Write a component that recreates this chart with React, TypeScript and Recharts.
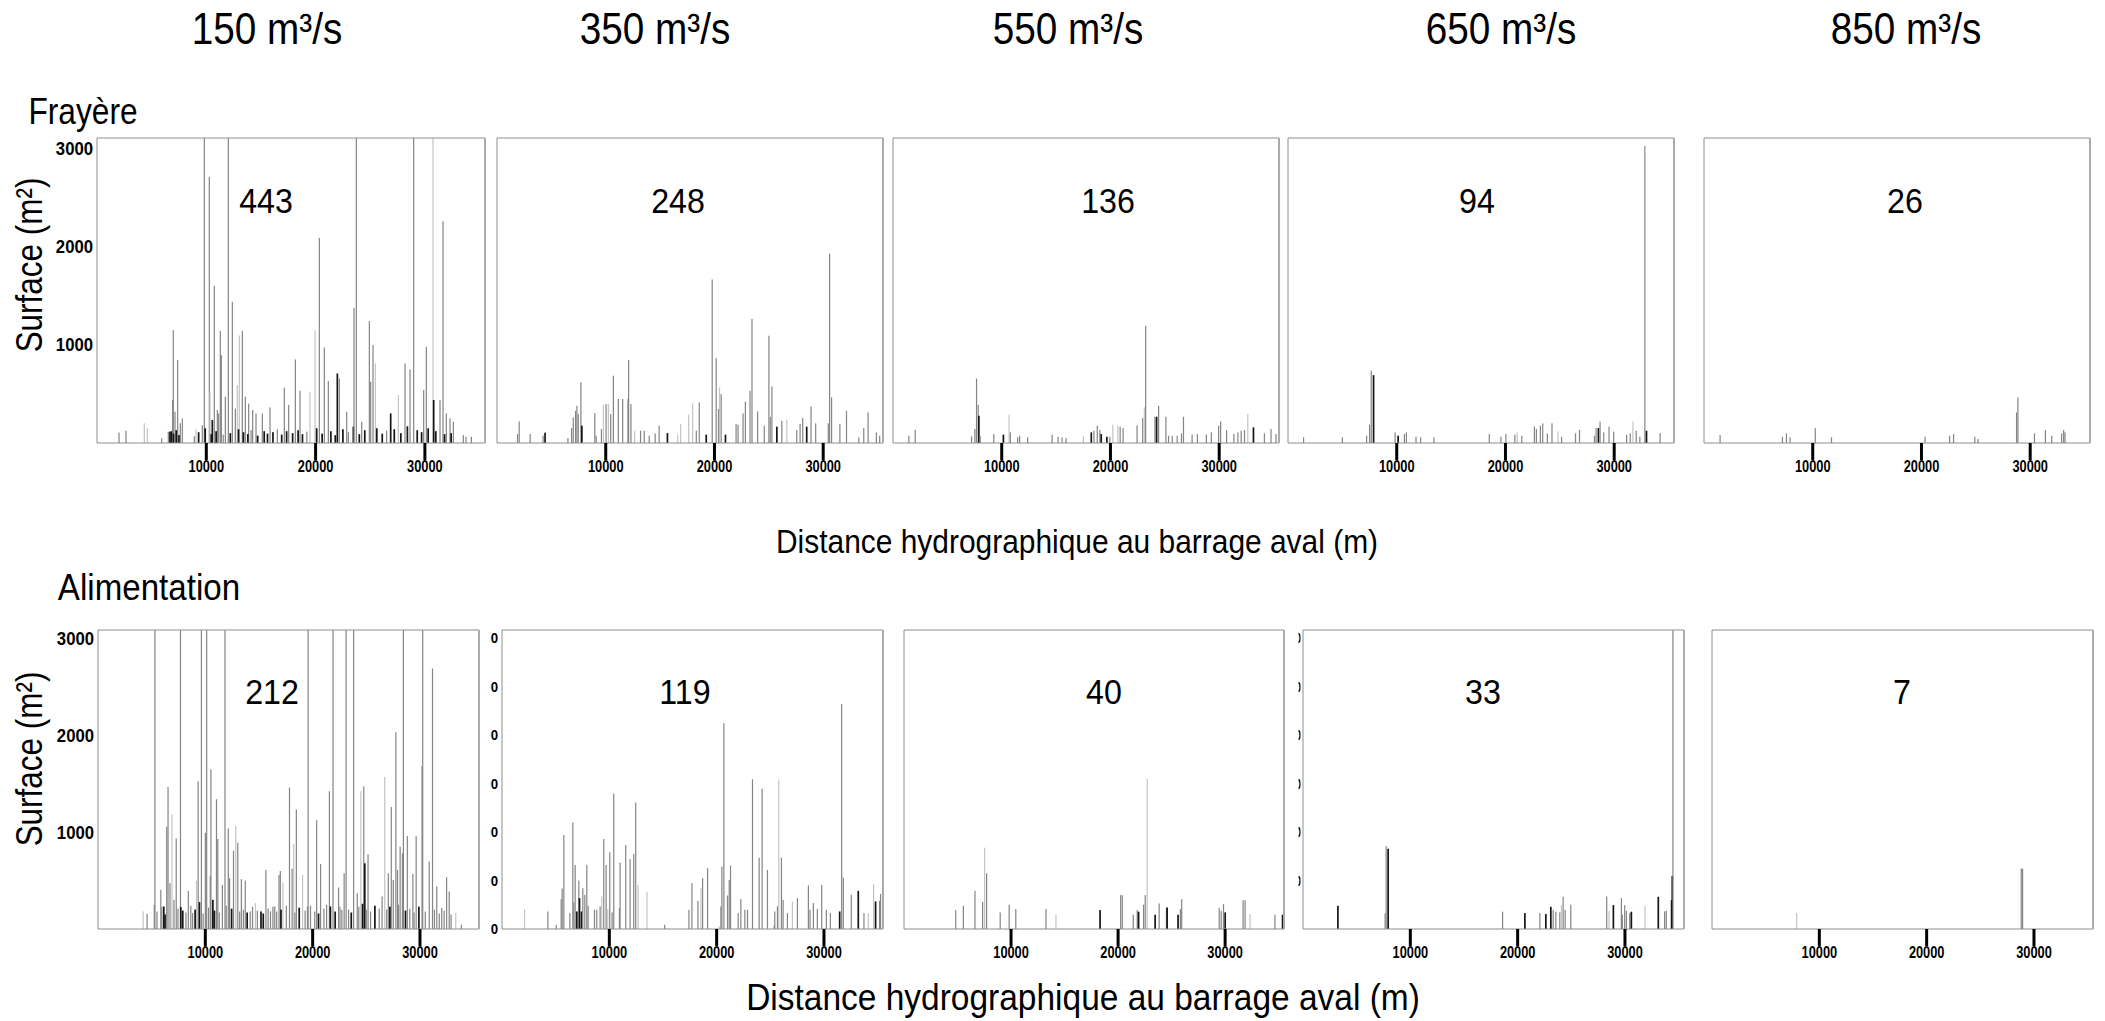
import React from 'react';
import { ComposedChart, Bar, XAxis, YAxis } from 'recharts';

type Spike = [number, number, string];

// ---------- labels / categories ----------
const flows = ['150', '350', '550', '650', '850'];
const frayereCounts = [443, 248, 136, 94, 26];
const alimCounts = [212, 119, 40, 33, 7];
const xLabelTicks = [10000, 20000, 30000];
const topTicks5k = [5000, 10000, 15000, 20000, 25000, 30000, 35000];
const topTicks10k = [10000, 20000, 30000];
const yLabelTicks = [1000, 2000, 3000];
const yFrameTicks = [0, 500, 1000, 1500, 2000, 2500, 3000];
const xDomainMax = 35500;

// ---------- Frayère (spawning) ----------
const fray150: Spike[] = [
  [2013, 105, 'B'], [2653, 125, 'B'], [4331, 200, 'C'], [4606, 150, 'C'], [5917, 47, 'B'],
  [6527, 115, 'B'], [6680, 115, 'A'], [6924, 437, 'B'], [6984, 1147, 'B'], [7137, 318, 'B'],
  [7381, 843, 'B'], [7625, 200, 'B'], [7808, 250, 'B'], [9058, 140, 'C'], [9638, 180, 'B'],
  [9821, 3500, 'B'], [10278, 2704, 'B'], [10339, 520, 'C'], [10553, 233, 'A'], [10736, 1597, 'B'],
  [11011, 335, 'B'], [11132, 301, 'B'], [11285, 1140, 'B'], [11377, 893, 'B'], [11743, 470, 'B'],
  [12017, 3500, 'B'], [12383, 1435, 'B'], [12657, 350, 'B'], [12840, 590, 'C'], [13023, 1093, 'C'],
  [13298, 1140, 'B'], [13572, 470, 'B'], [13877, 400, 'B'], [14244, 335, 'B'], [14549, 300, 'B'],
  [15128, 300, 'B'], [15830, 362, 'B'], [17141, 562, 'B'], [17538, 386, 'B'], [18148, 850, 'B'],
  [18575, 531, 'B'], [19490, 521, 'C'], [19947, 1147, 'C'], [20344, 2085, 'B'], [20801, 971, 'B'],
  [21167, 629, 'B'], [21991, 707, 'A'], [22174, 656, 'B'], [22845, 318, 'B'], [23455, 166, 'A'],
  [23516, 1374, 'B'], [23729, 3500, 'B'], [24217, 217, 'B'], [24919, 1239, 'B'], [25041, 623, 'B'],
  [25254, 995, 'B'], [25468, 809, 'C'], [26871, 301, 'A'], [27573, 487, 'C'], [28182, 809, 'B'],
  [28640, 748, 'B'], [28975, 3500, 'B'], [29890, 538, 'B'], [30134, 978, 'B'], [30744, 3500, 'C'],
  [30805, 437, 'A'], [31385, 437, 'B'], [31659, 2254, 'B'], [31964, 301, 'B'], [32300, 250, 'B'],
  [32605, 217, 'B'], [33520, 81, 'B'], [33764, 64, 'B'], [34252, 64, 'B'],
];
const fray150Base: Spike[] = [
  [6800, 120, 'A'], [7000, 95, 'A'], [7250, 130, 'A'], [7500, 80, 'A'], [8900, 70, 'B'],
  [9300, 110, 'A'], [9900, 150, 'A'], [10450, 90, 'A'], [10900, 120, 'A'], [11550, 85, 'B'],
  [12200, 100, 'A'], [12950, 140, 'A'], [13400, 110, 'A'], [13800, 90, 'A'], [14100, 130, 'B'],
  [14700, 75, 'A'], [15300, 120, 'A'], [15600, 95, 'A'], [16100, 110, 'A'], [16500, 140, 'B'],
  [16900, 85, 'A'], [17350, 120, 'A'], [17900, 100, 'A'], [18400, 130, 'A'], [18800, 90, 'A'],
  [19200, 115, 'B'], [20100, 150, 'A'], [20600, 95, 'A'], [21400, 120, 'A'], [21800, 80, 'A'],
  [22500, 140, 'A'], [23000, 110, 'B'], [24000, 90, 'A'], [24500, 130, 'A'], [25600, 150, 'A'],
  [26100, 95, 'A'], [26500, 125, 'B'], [27200, 140, 'A'], [27800, 100, 'A'], [28400, 170, 'A'],
  [29300, 130, 'A'], [29700, 110, 'A'], [30300, 150, 'A'], [31000, 120, 'A'], [31800, 90, 'A'],
  [32400, 100, 'A'],
];
const fray350: Spike[] = [
  [1891, 91, 'B'], [2044, 220, 'B'], [3050, 91, 'B'], [4240, 74, 'B'], [4423, 105, 'A'],
  [6527, 51, 'B'], [6863, 152, 'B'], [7015, 260, 'B'], [7229, 328, 'B'], [7351, 379, 'B'],
  [7473, 294, 'B'], [7717, 616, 'B'], [7808, 176, 'A'], [8998, 305, 'B'], [9120, 74, 'B'],
  [9608, 142, 'B'], [9791, 389, 'C'], [10035, 396, 'B'], [10248, 396, 'C'], [10462, 294, 'B'],
  [10706, 684, 'B'], [11163, 447, 'B'], [11560, 447, 'B'], [12048, 447, 'B'], [12109, 843, 'B'],
  [12322, 396, 'B'], [12658, 125, 'C'], [13207, 125, 'B'], [13542, 125, 'B'], [14000, 74, 'B'],
  [14549, 98, 'B'], [14915, 176, 'B'], [15677, 101, 'A'], [16623, 85, 'C'], [16897, 193, 'C'],
  [17629, 288, 'C'], [17995, 403, 'C'], [18331, 125, 'B'], [18605, 413, 'B'], [19246, 85, 'A'],
  [19795, 1662, 'B'], [20161, 863, 'B'], [20374, 345, 'B'], [20466, 565, 'C'], [20618, 497, 'B'],
  [21015, 85, 'A'], [21991, 193, 'B'], [22174, 186, 'B'], [22631, 301, 'B'], [22845, 420, 'B'],
  [23272, 531, 'B'], [23455, 1262, 'B'], [23973, 321, 'B'], [24583, 176, 'B'], [25010, 1090, 'B'],
  [25132, 267, 'B'], [25285, 575, 'B'], [25742, 166, 'A'], [26200, 227, 'B'], [26657, 237, 'C'],
  [27572, 132, 'B'], [27877, 193, 'B'], [28121, 254, 'B'], [28487, 166, 'A'], [28884, 372, 'B'],
  [29311, 200, 'B'], [30470, 200, 'B'], [30592, 1925, 'B'], [30775, 464, 'B'], [31537, 193, 'B'],
  [32147, 328, 'B'], [33276, 58, 'B'], [33733, 152, 'B'], [34130, 311, 'B'], [34892, 108, 'B'],
  [35197, 74, 'B'],
];
const fray550: Spike[] = [
  [1464, 74, 'B'], [2044, 135, 'B'], [7229, 68, 'B'], [7534, 142, 'B'], [7686, 656, 'B'],
  [7839, 389, 'B'], [7900, 277, 'A'], [8022, 74, 'B'], [9272, 91, 'B'], [10157, 85, 'A'],
  [10675, 288, 'C'], [10797, 108, 'B'], [11468, 58, 'B'], [11651, 74, 'B'], [12383, 58, 'B'],
  [14640, 85, 'B'], [15189, 64, 'B'], [15555, 58, 'B'], [15921, 51, 'B'], [17507, 68, 'C'],
  [18239, 108, 'A'], [18483, 125, 'B'], [18788, 176, 'B'], [19032, 132, 'B'], [19154, 91, 'A'],
  [19673, 64, 'A'], [19947, 64, 'B'], [20222, 186, 'C'], [20679, 176, 'C'], [20893, 166, 'B'],
  [21167, 152, 'B'], [22448, 179, 'B'], [22967, 254, 'B'], [23119, 362, 'C'], [23241, 1191, 'B'],
  [24095, 267, 'B'], [24248, 267, 'A'], [24431, 379, 'B'], [25102, 267, 'B'], [25346, 74, 'B'],
  [25681, 74, 'B'], [26139, 74, 'B'], [26535, 98, 'B'], [26718, 267, 'B'], [27511, 85, 'B'],
  [28000, 91, 'B'], [28823, 85, 'B'], [29280, 108, 'B'], [29951, 176, 'B'], [30134, 220, 'B'],
  [30683, 132, 'B'], [31354, 91, 'B'], [31720, 108, 'B'], [32025, 125, 'B'], [32330, 132, 'B'],
  [32635, 294, 'C'], [33154, 159, 'A'], [34160, 98, 'B'], [34770, 142, 'B'], [35228, 91, 'B'],
];
const fray650: Spike[] = [
  [1464, 58, 'B'], [5033, 58, 'B'], [7259, 74, 'B'], [7534, 186, 'B'], [7686, 734, 'B'],
  [7900, 690, 'A'], [9882, 108, 'B'], [10157, 74, 'A'], [10736, 91, 'B'], [10919, 108, 'B'],
  [11804, 64, 'B'], [12231, 58, 'B'], [13451, 58, 'B'], [18544, 91, 'B'], [19612, 64, 'B'],
  [20069, 91, 'B'], [20893, 85, 'B'], [21106, 108, 'C'], [21533, 74, 'B'], [22692, 169, 'B'],
  [22875, 142, 'B'], [23241, 176, 'B'], [23455, 200, 'B'], [23882, 98, 'B'], [24309, 200, 'B'],
  [24858, 118, 'C'], [25193, 64, 'B'], [26474, 98, 'B'], [26840, 135, 'B'], [28213, 74, 'B'],
  [28365, 152, 'B'], [28579, 152, 'A'], [28731, 217, 'B'], [29067, 108, 'B'], [29555, 166, 'B'],
  [29982, 115, 'B'], [31171, 85, 'B'], [31507, 98, 'B'], [31751, 217, 'C'], [32056, 125, 'B'],
  [32391, 64, 'B'], [32849, 3018, 'B'], [33001, 125, 'A'], [34252, 101, 'B'],
];
const fray850: Spike[] = [
  [1495, 81, 'B'], [7229, 64, 'B'], [7595, 98, 'B'], [7930, 58, 'B'], [10248, 152, 'B'],
  [11743, 58, 'B'], [20344, 64, 'B'], [22601, 74, 'B'], [22967, 91, 'B'], [24919, 64, 'B'],
  [25224, 40, 'B'], [28762, 311, 'B'], [28884, 464, 'B'], [30409, 98, 'B'], [31415, 132, 'B'],
  [31995, 74, 'B'], [32910, 98, 'B'], [33093, 132, 'B'], [33215, 108, 'B'],
];

// ---------- Alimentation (feeding) ----------
const alim150: Spike[] = [
  [5307, 3500, 'B'], [7686, 3500, 'B'], [9638, 3500, 'B'], [10126, 3500, 'B'], [11834, 3500, 'B'],
  [19581, 3500, 'B'], [21899, 3500, 'B'], [23119, 3500, 'B'], [23820, 3500, 'B'], [28457, 3500, 'B'],
  [30256, 3500, 'B'],
  [4209, 181, 'C'], [4575, 157, 'B'], [5246, 250, 'B'], [5856, 403, 'B'], [6131, 232, 'A'],
  [6405, 1053, 'B'], [6527, 1463, 'B'], [6710, 472, 'B'], [6893, 1180, 'C'], [7076, 301, 'B'],
  [7290, 933, 'B'], [7717, 226, 'A'], [8418, 393, 'B'], [8815, 164, 'B'], [9181, 496, 'C'],
  [9333, 1521, 'B'], [9455, 277, 'A'], [10004, 991, 'B'], [10462, 547, 'B'], [10523, 1645, 'B'],
  [10706, 301, 'A'], [11041, 1337, 'B'], [11163, 927, 'B'], [11590, 455, 'B'], [12139, 1036, 'B'],
  [12261, 523, 'B'], [12627, 807, 'B'], [12841, 1063, 'C'], [13024, 889, 'B'], [13359, 513, 'B'],
  [13725, 499, 'B'], [14183, 181, 'B'], [14671, 267, 'C'], [15189, 181, 'A'], [15647, 609, 'B'],
  [16074, 181, 'B'], [16470, 232, 'B'], [16867, 557, 'B'], [16989, 598, 'B'], [17233, 479, 'C'],
  [17843, 1457, 'B'], [18087, 622, 'B'], [18239, 875, 'C'], [18483, 1231, 'B'], [19063, 557, 'C'],
  [19520, 232, 'B'], [20374, 1121, 'B'], [20740, 670, 'B'], [21564, 1419, 'B'], [21656, 232, 'A'],
  [22418, 427, 'B'], [22723, 198, 'B'], [22936, 574, 'B'], [24156, 369, 'B'], [24492, 1419, 'C'],
  [24766, 1470, 'B'], [24858, 677, 'A'], [25163, 769, 'B'], [26474, 335, 'B'], [26718, 1566, 'C'],
  [27054, 574, 'B'], [27328, 1258, 'B'], [27511, 506, 'B'], [27755, 2027, 'B'], [27908, 609, 'B'],
  [28152, 848, 'B'], [28365, 779, 'B'], [28823, 957, 'B'], [29341, 568, 'B'], [29646, 957, 'B'],
  [30195, 1679, 'B'], [30866, 694, 'B'], [31171, 2684, 'B'], [31568, 438, 'B'], [32025, 215, 'B'],
  [32483, 533, 'B'], [32727, 386, 'B'], [33337, 164, 'C'], [33855, 44, 'B'],
];
const alim150Base: Spike[] = [
  [5500, 180, 'B'], [5950, 230, 'B'], [6250, 150, 'A'], [7450, 210, 'B'], [7900, 190, 'A'],
  [8200, 170, 'B'], [8650, 240, 'B'], [9050, 200, 'A'], [9800, 160, 'B'], [10300, 220, 'B'],
  [10850, 190, 'A'], [11300, 170, 'B'], [11950, 240, 'B'], [12450, 210, 'A'], [13200, 180, 'B'],
  [13550, 200, 'B'], [13900, 170, 'A'], [14400, 230, 'B'], [14850, 190, 'B'], [15400, 160, 'A'],
  [15850, 210, 'B'], [16300, 230, 'B'], [16650, 180, 'B'], [17050, 200, 'A'], [17550, 240, 'B'],
  [18350, 170, 'B'], [18750, 220, 'A'], [19300, 190, 'B'], [19800, 240, 'B'], [20200, 180, 'B'],
  [20550, 160, 'A'], [21050, 210, 'B'], [21300, 250, 'B'], [22100, 180, 'A'], [22550, 230, 'B'],
  [23350, 200, 'B'], [23600, 170, 'A'], [24300, 230, 'B'], [24650, 260, 'A'], [25000, 200, 'B'],
  [25400, 180, 'B'], [25800, 240, 'A'], [26200, 210, 'B'], [26900, 200, 'B'], [27200, 230, 'A'],
  [28000, 250, 'B'], [28650, 190, 'A'], [29050, 210, 'B'], [29450, 170, 'B'], [29900, 230, 'A'],
  [30500, 180, 'B'], [31350, 200, 'B'], [31800, 160, 'B'], [32250, 190, 'B'], [32900, 150, 'B'],
];
const alim350: Spike[] = [
  [2108, 198, 'C'], [4278, 181, 'B'], [5053, 44, 'B'], [5518, 308, 'B'], [5611, 417, 'B'],
  [5766, 968, 'B'], [6324, 164, 'B'], [6603, 1097, 'B'], [6696, 274, 'B'], [6820, 660, 'B'],
  [6975, 181, 'A'], [7161, 499, 'B'], [7223, 318, 'A'], [7409, 181, 'A'], [7533, 420, 'B'],
  [7719, 352, 'B'], [7905, 660, 'B'], [8029, 239, 'B'], [8618, 198, 'B'], [8835, 198, 'B'],
  [9145, 233, 'B'], [9300, 335, 'C'], [9486, 927, 'B'], [9703, 660, 'B'], [9858, 205, 'C'],
  [10044, 790, 'B'], [10261, 171, 'B'], [10416, 1395, 'B'], [10943, 215, 'B'], [11005, 684, 'B'],
  [11532, 865, 'B'], [11935, 721, 'B'], [12276, 773, 'B'], [12462, 1303, 'B'], [12679, 455, 'C'],
  [13516, 380, 'C'], [15159, 44, 'B'], [17422, 198, 'B'], [17701, 472, 'B'], [18259, 291, 'B'],
  [18538, 420, 'C'], [18693, 523, 'B'], [19158, 626, 'B'], [20243, 27, 'C'], [20398, 233, 'B'],
  [20491, 643, 'B'], [20677, 2120, 'B'], [21018, 345, 'B'], [21173, 506, 'B'], [21297, 653, 'B'],
  [22010, 164, 'B'], [22258, 308, 'B'], [22630, 198, 'B'], [22878, 198, 'B'], [23343, 1542, 'B'],
  [23963, 735, 'B'], [24242, 1446, 'B'], [24738, 609, 'B'], [25358, 34, 'B'], [25420, 181, 'B'],
  [25668, 233, 'B'], [25792, 1539, 'C'], [26040, 735, 'B'], [26195, 301, 'B'], [26598, 164, 'B'],
  [27063, 284, 'C'], [27528, 318, 'B'], [28551, 448, 'B'], [28706, 198, 'B'], [29016, 267, 'B'],
  [29388, 205, 'B'], [29791, 455, 'B'], [30225, 198, 'B'], [30597, 164, 'B'], [31465, 181, 'A'],
  [31651, 2318, 'B'], [31806, 530, 'B'], [32550, 352, 'B'], [33201, 393, 'A'], [33728, 164, 'B'],
  [34131, 164, 'C'], [34627, 462, 'C'], [34813, 284, 'A'], [35185, 291, 'B'], [35278, 362, 'B'],
];
const alim550: Spike[] = [
  [4836, 195, 'B'], [5549, 239, 'B'], [6634, 393, 'B'], [7347, 280, 'B'], [7533, 838, 'C'],
  [7719, 574, 'B'], [8990, 171, 'B'], [9827, 250, 'B'], [10447, 205, 'B'], [13268, 205, 'B'],
  [14198, 147, 'C'], [18321, 195, 'A'], [20243, 349, 'B'], [20398, 349, 'B'], [21421, 147, 'B'],
  [21793, 195, 'B'], [21917, 178, 'A'], [22382, 250, 'B'], [22537, 349, 'B'], [22723, 1545, 'C'],
  [23467, 147, 'A'], [23839, 263, 'B'], [24521, 215, 'B'], [24583, 222, 'A'], [25606, 147, 'A'],
  [25823, 205, 'B'], [25947, 308, 'B'], [29450, 215, 'B'], [29636, 188, 'B'], [29853, 256, 'B'],
  [30008, 171, 'A'], [31682, 297, 'B'], [31868, 297, 'B'], [32333, 154, 'C'], [34658, 147, 'B'],
  [35371, 147, 'A'],
];
const alim650: Spike[] = [
  [3255, 239, 'A'], [7657, 161, 'B'], [7750, 855, 'B'], [7936, 827, 'A'], [18600, 178, 'B'],
  [20677, 164, 'A'], [22072, 164, 'B'], [22630, 154, 'A'], [23095, 229, 'A'], [23312, 198, 'B'],
  [23560, 178, 'B'], [23932, 171, 'B'], [24087, 250, 'C'], [24242, 332, 'B'], [24428, 198, 'B'],
  [24955, 250, 'B'], [28303, 335, 'B'], [28520, 188, 'C'], [28923, 246, 'A'], [29667, 318, 'B'],
  [29760, 147, 'B'], [29977, 246, 'B'], [30132, 188, 'B'], [30442, 164, 'B'], [30597, 178, 'A'],
  [31868, 239, 'C'], [33108, 332, 'A'], [33697, 181, 'B'], [33852, 188, 'B'], [34348, 297, 'A'],
  [34410, 547, 'A'], [34472, 3500, 'B'],
];
const alim850: Spike[] = [
  [7905, 164, 'C'], [28830, 622, 'B'], [28954, 622, 'B'],
];

// ---------- styling ----------
const COLORS: Record<string, string> = { A: '#151515', B: '#858585', C: '#c4c4c4' };
const FRAME = '#8e8e8e';
const FONT = '"Liberation Sans", Arial, Helvetica, sans-serif';

function SpikeShape(props: any) {
  const { x, y, width, height, payload } = props;
  if ([x, y, width, height].some((v) => typeof v !== 'number' || isNaN(v))) return null;
  const cat = (payload && payload.c) || 'B';
  const w = cat === 'A' ? 1.7 : 1.2;
  const cx = x + width / 2;
  return <rect x={cx - w / 2} y={y} width={w} height={Math.max(0, height)} fill={COLORS[cat]} />;
}

type LabelMode = 'full' | 'zeros' | 'sliver' | 'none';

const tickTextStyle = { fontFamily: FONT, fontSize: 19, fontWeight: 700, fill: '#000' } as any;

function XTick(props: any) {
  const { x, y, payload } = props;
  return (
    <text
      transform={`translate(${x},${y}) scale(0.8,1)`}
      textAnchor="middle"
      dy="0.78em"
      style={{ ...tickTextStyle, fontSize: 16 }}
    >
      {String(payload.value)}
    </text>
  );
}

function YLabelTick(props: any) {
  const { x, y, payload, mode, pid } = props;
  const value = payload && payload.value;
  if (mode === 'none') return null;
  if (mode === 'full') {
    return (
      <text transform={`translate(${x},${y}) scale(0.88,1)`} dy="0.36em" textAnchor="end" style={tickTextStyle}>
        {String(value)}
      </text>
    );
  }
  const id = `clip-${pid}-${value}`;
  const endX = mode === 'zeros' ? x : x + 10;
  const cx0 = mode === 'zeros' ? x - 7.5 : x - 0.5;
  const cw = mode === 'zeros' ? 8 : 2;
  return (
    <g>
      <defs>
        <clipPath id={id}>
          <rect x={cx0} y={y - 12} width={cw} height={24} />
        </clipPath>
      </defs>
      <g clipPath={`url(#${id})`}>
        <text transform={`translate(${endX},${y}) scale(0.88,1)`} dy="0.36em" textAnchor="end" style={{ ...tickTextStyle, fontSize: 15 }}>
          {String(value)}
        </text>
      </g>
    </g>
  );
}

interface PanelProps {
  pid: string;
  left: number;
  top: number;
  width: number;
  height: number;
  yMax: number;
  data: Spike[];
  topTicks: number[];
  labelMode: LabelMode;
}

function Panel({ pid, left, top, width, height, yMax, data, topTicks, labelMode }: PanelProps) {
  const ML = 60, MT = 4, MR = 4, MB = 46;
  const chartW = width + ML + MR;
  const chartH = height + MT + MB;
  const rows = data.map(([x, v, c]) => ({ x, v, c }));
  const labelTicks = labelMode === 'full' ? yLabelTicks : yFrameTicks;
  return (
    <div style={{ position: 'absolute', left: left - ML, top: top - MT, width: chartW, height: chartH }}>
      <ComposedChart width={chartW} height={chartH} data={rows} margin={{ top: MT, right: MR, bottom: 0, left: 0 }}>
        <XAxis
          xAxisId="bot"
          dataKey="x"
          type="number"
          domain={[0, xDomainMax]}
          allowDataOverflow
          ticks={xLabelTicks}
          interval={0}
          orientation="bottom"
          height={MB}
          tickSize={17}
          tickMargin={0}
          axisLine={{ stroke: FRAME, strokeWidth: 1 }}
          tickLine={{ stroke: '#000', strokeWidth: 3 }}
          tick={(p: any) => <XTick {...p} />}
        />
        <XAxis
          xAxisId="top"
          dataKey="x"
          type="number"
          domain={[0, xDomainMax]}
          allowDataOverflow
          ticks={topTicks}
          interval={0}
          orientation="top"
          mirror
          height={10}
          tick={false}
          tickSize={5}
          axisLine={{ stroke: FRAME, strokeWidth: 1 }}
          tickLine={{ stroke: FRAME, strokeWidth: 1 }}
        />
        <YAxis
          yAxisId="lab"
          type="number"
          domain={[0, yMax]}
          allowDataOverflow
          orientation="left"
          width={ML}
          ticks={labelTicks}
          interval={0}
          tickLine={false}
          axisLine={false}
          tickSize={4}
          tickMargin={0}
          tick={(p: any) => <YLabelTick {...p} mode={labelMode} pid={pid} />}
        />
        <YAxis
          yAxisId="lf"
          type="number"
          domain={[0, yMax]}
          allowDataOverflow
          orientation="left"
          mirror
          width={10}
          ticks={yFrameTicks}
          interval={0}
          tick={false}
          tickSize={5}
          axisLine={{ stroke: FRAME, strokeWidth: 1 }}
          tickLine={{ stroke: FRAME, strokeWidth: 1 }}
        />
        <YAxis
          yAxisId="rt"
          type="number"
          domain={[0, yMax]}
          allowDataOverflow
          orientation="right"
          mirror
          width={10}
          ticks={yFrameTicks}
          interval={0}
          tick={false}
          tickSize={6}
          axisLine={{ stroke: '#ababab', strokeWidth: 2 }}
          tickLine={{ stroke: '#9a9a9a', strokeWidth: 1 }}
        />
        <Bar
          xAxisId="bot"
          yAxisId="lab"
          dataKey="v"
          barSize={1}
          isAnimationActive={false}
          shape={(p: any) => <SpikeShape {...p} />}
        />
      </ComposedChart>
    </div>
  );
}

function TextAt({ x, y, size, scale = 1, rotate = 0, weight = 400, children }: any) {
  const rot = rotate ? ` rotate(${rotate}deg)` : '';
  return (
    <div
      style={{
        position: 'absolute',
        left: x,
        top: y,
        transform: `translate(-50%, -50%)${rot} scaleX(${scale})`,
        fontSize: size,
        fontWeight: weight,
        lineHeight: 1,
        whiteSpace: 'nowrap',
        color: '#000',
        fontFamily: FONT,
      }}
    >
      {children}
    </div>
  );
}

const row1 = { top: 138, height: 305, yMax: 3100 };
const row2 = { top: 630, height: 299, yMax: 3080 };
const row1Boxes = [[97, 388], [497, 386], [893, 386], [1288, 386], [1704, 386]];
const row2Boxes = [[98, 381], [502, 381], [904, 380], [1303, 381], [1712, 381]];
const row1Top = [topTicks10k, topTicks10k, topTicks10k, topTicks5k, topTicks5k];
const row2Top = [topTicks5k, topTicks5k, topTicks10k, topTicks5k, topTicks5k];
const row1Modes: LabelMode[] = ['full', 'none', 'none', 'none', 'none'];
const row2Modes: LabelMode[] = ['full', 'zeros', 'none', 'sliver', 'none'];
const headerX = [267, 655, 1068, 1501, 1906];
const count1Pos = [266, 678, 1108, 1477, 1905];
const count2Pos = [272, 685, 1104, 1483, 1902];

export default function App() {
  const frayData: Spike[][] = [[...fray150, ...fray150Base], fray350, fray550, fray650, fray850];
  const alimData: Spike[][] = [[...alim150, ...alim150Base], alim350, alim550, alim650, alim850];
  return (
    <div style={{ position: 'absolute', left: 0, top: 0, width: 2105, height: 1021, background: '#fff', fontFamily: FONT, overflow: 'hidden' }}>
      {flows.map((f, i) => (
        <TextAt key={`h${i}`} x={headerX[i]} y={29} size={44} scale={0.88}>
          {f} m³/s
        </TextAt>
      ))}
      <TextAt x={83} y={112} size={36} scale={0.88}>Frayère</TextAt>
      <TextAt x={149} y={588} size={36} scale={0.92}>Alimentation</TextAt>
      <TextAt x={29} y={265} size={37} scale={0.85} rotate={-90}>Surface (m²)</TextAt>
      <TextAt x={29} y={759} size={37} scale={0.85} rotate={-90}>Surface (m²)</TextAt>

      {frayData.map((d, i) => (
        <Panel
          key={`f${i}`}
          pid={`f${i}`}
          left={row1Boxes[i][0]}
          width={row1Boxes[i][1]}
          top={row1.top}
          height={row1.height}
          yMax={row1.yMax}
          data={d}
          topTicks={row1Top[i]}
          labelMode={row1Modes[i]}
        />
      ))}
      {alimData.map((d, i) => (
        <Panel
          key={`a${i}`}
          pid={`a${i}`}
          left={row2Boxes[i][0]}
          width={row2Boxes[i][1]}
          top={row2.top}
          height={row2.height}
          yMax={row2.yMax}
          data={d}
          topTicks={row2Top[i]}
          labelMode={row2Modes[i]}
        />
      ))}

      {frayereCounts.map((c, i) => (
        <TextAt key={`fc${i}`} x={count1Pos[i]} y={200} size={35} scale={0.92}>{c}</TextAt>
      ))}
      {alimCounts.map((c, i) => (
        <TextAt key={`ac${i}`} x={count2Pos[i]} y={691} size={35} scale={0.92}>{c}</TextAt>
      ))}

      <TextAt x={1077} y={541} size={34} scale={0.88}>Distance hydrographique au barrage aval (m)</TextAt>
      <TextAt x={1083} y={998} size={36} scale={0.93}>Distance hydrographique au barrage aval (m)</TextAt>
    </div>
  );
}
